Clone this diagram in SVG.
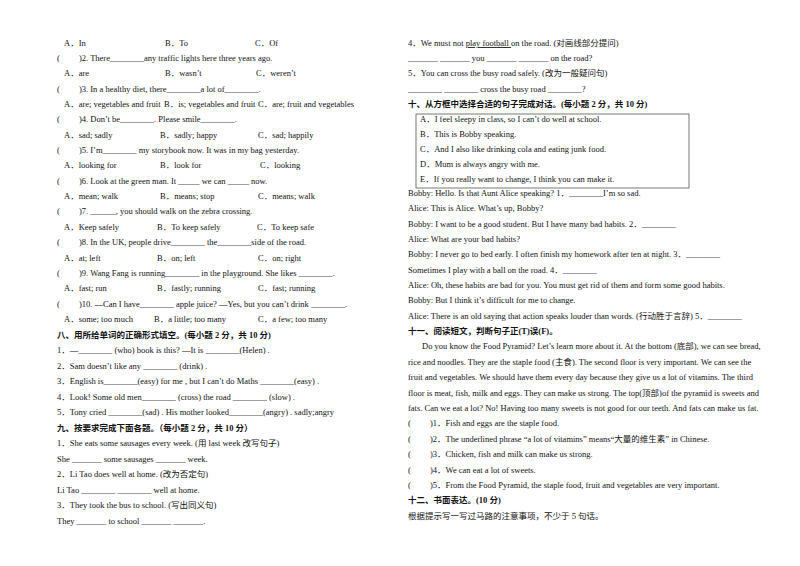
<svg xmlns="http://www.w3.org/2000/svg" width="800" height="566" viewBox="0 0 800 566">
<style>
text{font-family:"Liberation Serif","Noto Sans CJK SC",serif;font-size:8.5px;fill:#111}
.h{font-weight:bold;font-size:8.5px}
.u{text-decoration:underline}
</style>
<rect width="800" height="566" fill="#fff"/>
<g id="left">
<text x="64" y="46">A．In</text><text x="165" y="46">B．To</text><text x="255" y="46">C．Of</text>
<text x="57" y="61">(　　 )2. There________any traffic lights here three years ago.</text>
<text x="64" y="76">A．are</text><text x="165" y="76">B．wasn’t</text><text x="256" y="76">C．weren’t</text>
<text x="57" y="92">(　　 )3.  In a healthy diet, there________a lot of________.</text>
<text x="64" y="107">A．are; vegetables and fruit</text><text x="164" y="107">B．is; vegetables and fruit</text><text x="258" y="107">C．are; fruit and vegetables</text>
<text x="57" y="122">(　　 )4.  Don’t be________. Please smile________.</text>
<text x="64" y="138">A．sad; sadly</text><text x="160" y="138">B．sadly; happy</text><text x="258" y="138">C．sad; happily</text>
<text x="57" y="153">(　　 )5.  I’m________  my storybook now. It was in my bag yesterday.</text>
<text x="64" y="168">A．looking for</text><text x="160" y="168">B．look for</text><text x="260" y="168">C．looking</text>
<text x="57" y="184">(　　 )6.  Look at the green man. It _____ we can _____ now.</text>
<text x="64" y="199">A．mean; walk</text><text x="160" y="199">B．means; stop</text><text x="258" y="199">C．means; walk</text>
<text x="57" y="214">(　　 )7.  ______, you should walk on the zebra crossing.</text>
<text x="64" y="230">A．Keep safely</text><text x="157" y="230">B．To keep safely</text><text x="257" y="230">C．To keep safe</text>
<text x="57" y="245">(　　 )8.  In the UK, people drive________  the________side of the road.</text>
<text x="64" y="261">A．at; left</text><text x="157" y="261">B．on; left</text><text x="258" y="261">C．on; right</text>
<text x="57" y="276">(　　 )9.  Wang Fang is running________  in the playground. She likes  ________.</text>
<text x="64" y="291">A．fast; run</text><text x="157" y="291">B．fastly; running</text><text x="258" y="291">C．fast; running</text>
<text x="57" y="307">(　　 )10.  —Can I have________  apple juice? —Yes, but you can’t drink  ________.</text>
<text x="64" y="322">A．some; too much</text><text x="154" y="322">B．a little; too many</text><text x="258" y="322">C．a few; too many</text>
<text class="h" x="57" y="338">八、用所给单词的正确形式填空。(每小题 2 分，共 10 分)</text>
<text x="57" y="353">1．—________  (who) book is this? —It is  ________(Helen) .</text>
<text x="57" y="369">2．Sam doesn’t like any  ________  (drink) .</text>
<text x="57" y="384">3．English is________(easy) for me , but I can’t do Maths  ________(easy) .</text>
<text x="57" y="400">4．Look! Some old men________  (cross) the road  ________  (slow) .</text>
<text x="57" y="415">5．Tony cried  ________(sad) . His mother looked________(angry) .  sadly;angry</text>
<text class="h" x="57" y="431">九、按要求完成下面各题。（每小题 2 分，共 10 分）</text>
<text x="57" y="446">1．She eats some sausages every week. (用 last week  改写句子)</text>
<text x="57" y="462">She _______ some sausages _______ week.</text>
<text x="57" y="477">2．Li Tao does well at home. (改为否定句)</text>
<text x="57" y="493">Li Tao ________ ________ well at home.</text>
<text x="57" y="508">3．They took the bus to school. (写出同义句)</text>
<text x="57" y="524">They _______ to school _______ _______.</text>
</g>
<g id="right">
<text x="408" y="46">4．We must not  <tspan class="u">play football </tspan>on the road. (对画线部分提问)</text>
<text x="408" y="61">_______ _______ you _______ _______ on the road?</text>
<text x="408" y="76">5．You can cross the busy road safely. (改为一般疑问句)</text>
<text x="408" y="92">________ ________ cross the busy road ________?</text>
<text class="h" x="408" y="107">十、从方框中选择合适的句子完成对话。(每小题 2 分，共 10 分)</text>
<rect x="416" y="114" width="273" height="74" fill="none" stroke="#555" stroke-width="0.8"/>
<text x="420" y="122">A．I feel sleepy in class, so I can’t do well at school.</text>
<text x="420" y="137">B．This is Bobby speaking.</text>
<text x="420" y="152">C．And I also like drinking cola and eating junk food.</text>
<text x="420" y="167">D．Mum is always angry with me.</text>
<text x="420" y="182">E．If you really want to change, I think you can make it.</text>
<text x="408" y="196">Bobby: Hello. Is that Aunt Alice speaking? 1．________I’m so sad.</text>
<text x="408" y="211">Alice: This is Alice. What’s up, Bobby?</text>
<text x="408" y="227">Bobby: I want to be a good student. But I have many bad habits. 2．________</text>
<text x="408" y="242">Alice: What are your bad habits?</text>
<text x="408" y="257">Bobby: I never go to bed early. I often finish my homework after ten at night. 3．________</text>
<text x="408" y="273">Sometimes I play with a ball on the road. 4．________</text>
<text x="408" y="288">Alice: Oh, these habits are bad for you. You must get rid of them and form some good habits.</text>
<text x="408" y="303">Bobby: But I think it’s difficult for me to change.</text>
<text x="408" y="319">Alice: There is an old saying that action speaks louder than words. (行动胜于言辞) 5．________</text>
<text class="h" x="408" y="334">十一、阅读短文，判断句子正(T)误(F)。</text>
<text x="422" y="349">Do you know the Food Pyramid? Let’s learn more about it. At the bottom (底部), we can see bread,</text>
<text x="408" y="365">rice and noodles. They are the staple food (主食). The second floor is very important. We can see the</text>
<text x="408" y="380">fruit and vegetables. We should have them every day because they give us a lot of vitamins. The third</text>
<text x="408" y="396">floor is meat, fish, milk and eggs. They can make us strong. The top(顶部)of the pyramid is sweets and</text>
<text x="408" y="411">fats. Can we eat a lot? No! Having too many sweets is not good for our teeth. And fats can make us fat.</text>
<text x="408" y="426">(　　 )1．Fish and eggs are the staple food.</text>
<text x="408" y="442">(　　 )2．The underlined phrase “a lot of vitamins” means“大量的维生素” in Chinese.</text>
<text x="408" y="457">(　　 )3．Chicken, fish and milk can make us strong.</text>
<text x="408" y="473">(　　 )4．We can eat a lot of sweets.</text>
<text x="408" y="488">(　　 )5．From the Food Pyramid, the staple food, fruit and vegetables are very important.</text>
<text class="h" x="408" y="503">十二、书面表达。(10 分)</text>
<text x="408" y="519">根据提示写一写过马路的注意事项，不少于 5 句话。</text>
</g>
</svg>
